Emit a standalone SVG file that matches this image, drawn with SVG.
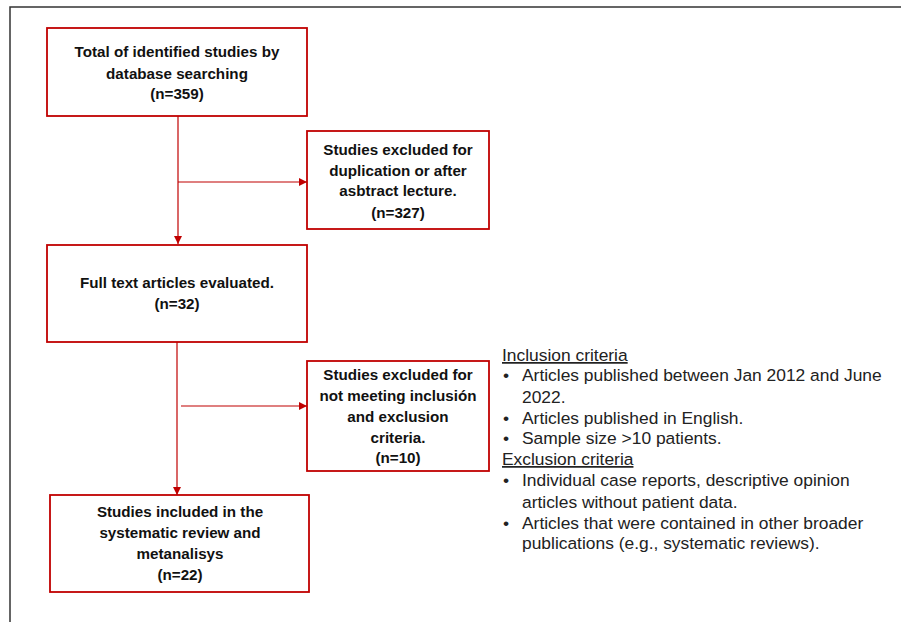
<svg xmlns="http://www.w3.org/2000/svg" width="901" height="622" viewBox="0 0 901 622">
<style>
.box{fill:#fff;stroke:#c00000;stroke-width:1.8}
.bt{font-family:"Liberation Sans",Arial,sans-serif;font-weight:bold;font-size:15.2px;fill:#111;text-anchor:middle}
.ct{font-family:"Liberation Sans",Arial,sans-serif;font-size:17.4px;fill:#222}
.con{stroke:#c00000;stroke-width:1.2;fill:none}
</style>
<defs>
<marker id="ah" viewBox="0 0 10 10" refX="10" refY="5" markerWidth="8" markerHeight="8" markerUnits="userSpaceOnUse" orient="auto">
<path d="M0,0 L10,5 L0,10 Z" fill="#c00000"/>
</marker>
</defs>
<rect width="901" height="622" fill="#fff"/>
<path d="M10,622 V7 H901" fill="none" stroke="#333" stroke-width="1.5"/>
<g id="connectors">
<path class="con" d="M178,116 V244" marker-end="url(#ah)"/>
<path class="con" d="M178,182 H307" marker-end="url(#ah)"/>
<path class="con" d="M177,342 V495" marker-end="url(#ah)"/>
<path class="con" d="M181,406 H307" marker-end="url(#ah)"/>
</g>
<g id="n1">
<rect class="box" x="47" y="28" width="260" height="88"/>
<text class="bt" x="177" y="57">Total of identified studies by</text>
<text class="bt" x="177" y="79">database searching</text>
<text class="bt" x="177" y="99">(n=359)</text>
</g>
<g id="n2">
<rect class="box" x="307" y="131" width="182" height="98"/>
<text class="bt" x="398" y="155">Studies excluded for</text>
<text class="bt" x="398" y="176">duplication or after</text>
<text class="bt" x="398" y="196">asbtract lecture.</text>
<text class="bt" x="398" y="218">(n=327)</text>
</g>
<g id="n3">
<rect class="box" x="47" y="245" width="260" height="97"/>
<text class="bt" x="177" y="288">Full text articles evaluated.</text>
<text class="bt" x="177" y="309">(n=32)</text>
</g>
<g id="n4">
<rect class="box" x="307" y="361" width="182" height="110"/>
<text class="bt" x="398" y="380">Studies excluded for</text>
<text class="bt" x="398" y="401">not meeting inclusión</text>
<text class="bt" x="398" y="422">and exclusion</text>
<text class="bt" x="398" y="443">criteria.</text>
<text class="bt" x="398" y="463">(n=10)</text>
</g>
<g id="n5">
<rect class="box" x="50" y="495" width="259" height="97"/>
<text class="bt" x="180" y="517">Studies included in the</text>
<text class="bt" x="180" y="538">systematic review and</text>
<text class="bt" x="180" y="559">metanalisys</text>
<text class="bt" x="180" y="580">(n=22)</text>
</g>
<g id="criteria">
<text class="ct" x="502" y="361" text-decoration="underline">Inclusion criteria</text>
<text class="ct" x="503" y="381">•</text><text class="ct" x="522" y="381">Articles published between Jan 2012 and June</text>
<text class="ct" x="522" y="403">2022.</text>
<text class="ct" x="503" y="424">•</text><text class="ct" x="522" y="424">Articles published in English.</text>
<text class="ct" x="503" y="444">•</text><text class="ct" x="522" y="444">Sample size &gt;10 patients.</text>
<text class="ct" x="502" y="465" text-decoration="underline">Exclusion criteria</text>
<text class="ct" x="503" y="486">•</text><text class="ct" x="522" y="486">Individual case reports, descriptive opinion</text>
<text class="ct" x="522" y="508">articles without patient data.</text>
<text class="ct" x="503" y="529">•</text><text class="ct" x="522" y="529">Articles that were contained in other broader</text>
<text class="ct" x="522" y="549">publications (e.g., systematic reviews).</text>
</g>
</svg>
